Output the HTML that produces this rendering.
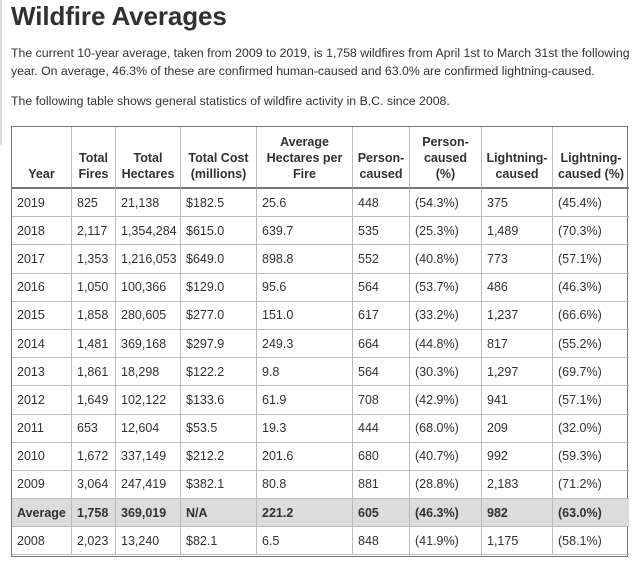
<!DOCTYPE html>
<html><head><meta charset="utf-8"><style>
body{margin:0;width:638px;height:561px;overflow:hidden;background:#fff;font-family:"Liberation Sans",sans-serif;color:#313132;position:relative}
.bar{position:absolute;left:0;top:0;width:2px;height:145px;background:#ddd}
h1{position:absolute;left:11px;top:1px;margin:0;font-size:26px;font-weight:bold;letter-spacing:-0.1px}
p{position:absolute;left:11px;margin:0;font-size:12.3px;line-height:18px;width:625px}
.t{position:absolute;left:11px;top:126px;width:617px;display:grid;grid-template-columns:60px 44px 65px 76px 96px 57px 72px 71px 76px;grid-template-rows:62px repeat(13,28.2px);border:1px solid #777;font-size:12.5px;box-sizing:border-box;height:430.6px}
.t div{border-right:1px solid #bbb;border-bottom:1px solid #bbb;padding:0 5px;display:flex;align-items:center;white-space:nowrap;overflow:hidden;box-sizing:border-box}
.t div.h{font-weight:bold;text-align:center;justify-content:center;align-items:flex-end;padding-bottom:5px;line-height:16px;border-bottom:2px solid #777;padding-left:2px;padding-right:2px}
.t div.a{background:#dcdcdc;font-weight:bold}
.t div.e{border-right:none}
</style></head><body>
<div class="bar"></div>
<h1>Wildfire Averages</h1>
<p style="top:44px">The current 10-year average, taken from 2009 to 2019, is 1,758 wildfires from April 1st to March 31st the following year. On average, 46.3% of these are confirmed human-caused and 63.0% are confirmed lightning-caused.</p>
<p style="top:92px">The following table shows general statistics of wildfire activity in B.C. since 2008.</p>
<div class="t">
<div class="h">Year</div><div class="h">Total<br>Fires</div><div class="h">Total<br>Hectares</div><div class="h">Total Cost<br>(millions)</div><div class="h">Average<br>Hectares per<br>Fire</div><div class="h">Person-<br>caused</div><div class="h">Person-<br>caused<br>(%)</div><div class="h">Lightning-<br>caused</div><div class="h e">Lightning-<br>caused (%)</div>
<div>2019</div><div>825</div><div>21,138</div><div>$182.5</div><div>25.6</div><div>448</div><div>(54.3%)</div><div>375</div><div class="e">(45.4%)</div>
<div>2018</div><div>2,117</div><div>1,354,284</div><div>$615.0</div><div>639.7</div><div>535</div><div>(25.3%)</div><div>1,489</div><div class="e">(70.3%)</div>
<div>2017</div><div>1,353</div><div>1,216,053</div><div>$649.0</div><div>898.8</div><div>552</div><div>(40.8%)</div><div>773</div><div class="e">(57.1%)</div>
<div>2016</div><div>1,050</div><div>100,366</div><div>$129.0</div><div>95.6</div><div>564</div><div>(53.7%)</div><div>486</div><div class="e">(46.3%)</div>
<div>2015</div><div>1,858</div><div>280,605</div><div>$277.0</div><div>151.0</div><div>617</div><div>(33.2%)</div><div>1,237</div><div class="e">(66.6%)</div>
<div>2014</div><div>1,481</div><div>369,168</div><div>$297.9</div><div>249.3</div><div>664</div><div>(44.8%)</div><div>817</div><div class="e">(55.2%)</div>
<div>2013</div><div>1,861</div><div>18,298</div><div>$122.2</div><div>9.8</div><div>564</div><div>(30.3%)</div><div>1,297</div><div class="e">(69.7%)</div>
<div>2012</div><div>1,649</div><div>102,122</div><div>$133.6</div><div>61.9</div><div>708</div><div>(42.9%)</div><div>941</div><div class="e">(57.1%)</div>
<div>2011</div><div>653</div><div>12,604</div><div>$53.5</div><div>19.3</div><div>444</div><div>(68.0%)</div><div>209</div><div class="e">(32.0%)</div>
<div>2010</div><div>1,672</div><div>337,149</div><div>$212.2</div><div>201.6</div><div>680</div><div>(40.7%)</div><div>992</div><div class="e">(59.3%)</div>
<div>2009</div><div>3,064</div><div>247,419</div><div>$382.1</div><div>80.8</div><div>881</div><div>(28.8%)</div><div>2,183</div><div class="e">(71.2%)</div>
<div class="a">Average</div><div class="a">1,758</div><div class="a">369,019</div><div class="a">N/A</div><div class="a">221.2</div><div class="a">605</div><div class="a">(46.3%)</div><div class="a">982</div><div class="a e">(63.0%)</div>
<div>2008</div><div>2,023</div><div>13,240</div><div>$82.1</div><div>6.5</div><div>848</div><div>(41.9%)</div><div>1,175</div><div class="e">(58.1%)</div>
</div>
</body></html>
